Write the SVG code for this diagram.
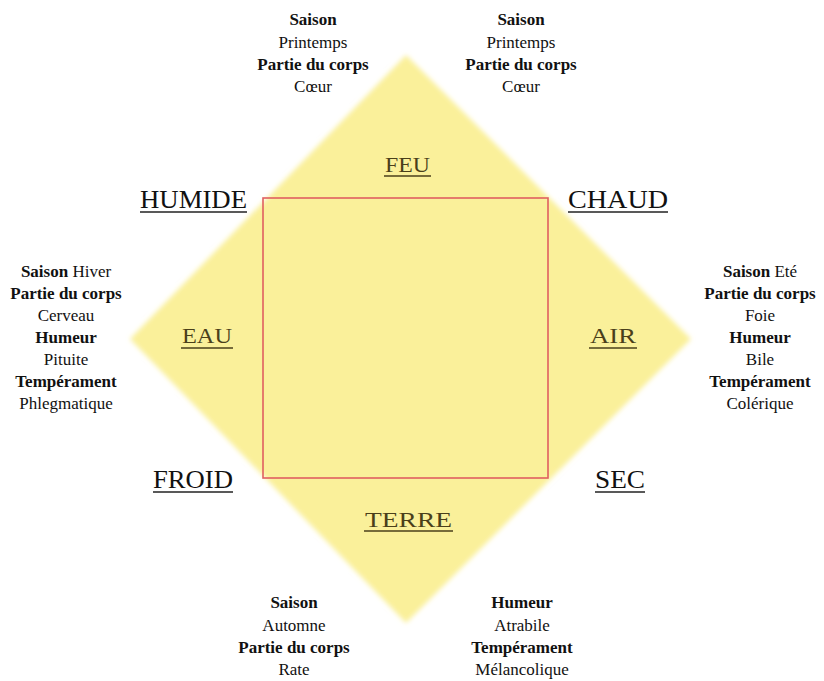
<svg xmlns="http://www.w3.org/2000/svg" width="824" height="681" viewBox="0 0 824 681" font-family="'Liberation Serif', 'Times New Roman', serif">
<defs>
<filter id="soft" x="-10%" y="-10%" width="120%" height="120%"><feGaussianBlur stdDeviation="2.5"/></filter>
</defs>
<style>
.t{font-family:'Liberation Serif','Times New Roman',serif;font-size:17px;text-anchor:middle;fill:#111}
.b{font-weight:bold}
.q{font-family:'Liberation Serif','Times New Roman',serif;font-size:26px;fill:#111}
.e{font-family:'Liberation Serif','Times New Roman',serif;font-size:21px;fill:#4a3f1a}
.ul{stroke:#222;stroke-width:1.5}
.ue{stroke:#4a3f1a;stroke-width:1.5}
</style>
<rect width="824" height="681" fill="#ffffff"/>
<g id="diamond">
<polygon points="406,55 691,339 406,623 130,339" fill="#faf09a" filter="url(#soft)"/>
</g>
<g id="square">
<rect x="263" y="198" width="285" height="280" fill="none" stroke="#e06060" stroke-width="1.6"/>
</g>
<g id="qualities">
<g id="humide"><text class="q" x="140" y="208" textLength="107" lengthAdjust="spacingAndGlyphs">HUMIDE</text><line class="ul" x1="140" y1="212" x2="247" y2="212"/></g>
<g id="chaud"><text class="q" x="568" y="208" textLength="100" lengthAdjust="spacingAndGlyphs">CHAUD</text><line class="ul" x1="568" y1="212" x2="668" y2="212"/></g>
<g id="froid"><text class="q" x="153" y="488" textLength="80" lengthAdjust="spacingAndGlyphs">FROID</text><line class="ul" x1="153" y1="492" x2="233" y2="492"/></g>
<g id="sec"><text class="q" x="595" y="488" textLength="50" lengthAdjust="spacingAndGlyphs">SEC</text><line class="ul" x1="595" y1="492" x2="645" y2="492"/></g>
</g>
<g id="elements">
<g id="feu"><text class="e" x="385" y="172" textLength="45" lengthAdjust="spacingAndGlyphs">FEU</text><line class="ue" x1="384" y1="176" x2="431" y2="176"/></g>
<g id="eau"><text class="e" x="182" y="343" textLength="50" lengthAdjust="spacingAndGlyphs">EAU</text><line class="ue" x1="181" y1="348" x2="233" y2="348"/></g>
<g id="air"><text class="e" x="590" y="343" textLength="46" lengthAdjust="spacingAndGlyphs">AIR</text><line class="ue" x1="589" y1="348" x2="637" y2="348"/></g>
<g id="terre"><text class="e" x="365" y="527" textLength="87" lengthAdjust="spacingAndGlyphs">TERRE</text><line class="ue" x1="364" y1="531" x2="453" y2="531"/></g>
</g>
<g id="info-top-left">
<text class="t b" x="313" y="25">Saison</text>
<text class="t" x="313" y="48">Printemps</text>
<text class="t b" x="313" y="70">Partie du corps</text>
<text class="t" x="313" y="92">Cœur</text>
</g>
<g id="info-top-right">
<text class="t b" x="521" y="25">Saison</text>
<text class="t" x="521" y="48">Printemps</text>
<text class="t b" x="521" y="70">Partie du corps</text>
<text class="t" x="521" y="92">Cœur</text>
</g>
<g id="info-left">
<text class="t" x="66" y="277"><tspan font-weight="bold">Saison</tspan> Hiver</text>
<text class="t b" x="66" y="299">Partie du corps</text>
<text class="t" x="66" y="321">Cerveau</text>
<text class="t b" x="66" y="343">Humeur</text>
<text class="t" x="66" y="365">Pituite</text>
<text class="t b" x="66" y="387">Tempérament</text>
<text class="t" x="66" y="409">Phlegmatique</text>
</g>
<g id="info-right">
<text class="t" x="760" y="277"><tspan font-weight="bold">Saison</tspan> Eté</text>
<text class="t b" x="760" y="299">Partie du corps</text>
<text class="t" x="760" y="321">Foie</text>
<text class="t b" x="760" y="343">Humeur</text>
<text class="t" x="760" y="365">Bile</text>
<text class="t b" x="760" y="387">Tempérament</text>
<text class="t" x="760" y="409">Colérique</text>
</g>
<g id="info-bottom-left">
<text class="t b" x="294" y="608">Saison</text>
<text class="t" x="294" y="631">Automne</text>
<text class="t b" x="294" y="653">Partie du corps</text>
<text class="t" x="294" y="675">Rate</text>
</g>
<g id="info-bottom-right">
<text class="t b" x="522" y="608">Humeur</text>
<text class="t" x="522" y="631">Atrabile</text>
<text class="t b" x="522" y="653">Tempérament</text>
<text class="t" x="522" y="675">Mélancolique</text>
</g>
</svg>
